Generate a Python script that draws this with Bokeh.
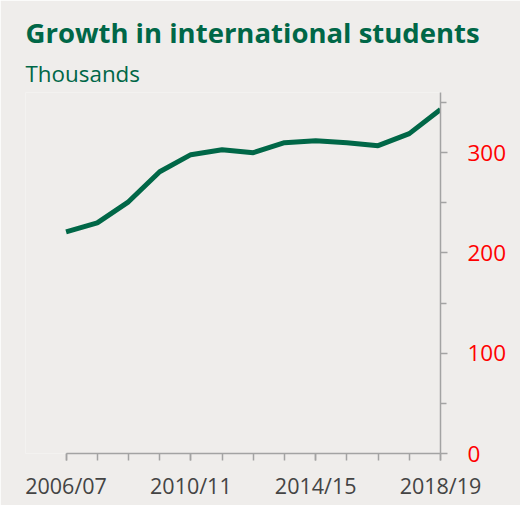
from bokeh.plotting import figure
from bokeh.models import Range1d, FixedTicker, Title
from bokeh.embed import file_html
from bokeh.resources import INLINE

years = ["2006/07", "2007/08", "2008/09", "2009/10", "2010/11", "2011/12", "2012/13",
         "2013/14", "2014/15", "2015/16", "2016/17", "2017/18", "2018/19"]
students = [221, 230, 251, 281, 298, 303, 300, 310, 312, 310, 307, 319, 343]
y_major = [0, 100, 200, 300]
y_minor = [50, 150, 250, 350]
x_labelled = ["2006/07", "2010/11", "2014/15", "2018/19"]

BG = "#efedeb"
GREEN = "#006747"
AXIS = "#a3a3a3"

xs = list(range(len(years)))

p = figure(width=520, height=505, output_backend="svg", toolbar_location=None,
           x_range=Range1d(-1.30, len(years) - 1), y_range=Range1d(0, 360),
           y_axis_location="right",
           min_border_left=25, min_border_right=80, min_border_top=92, min_border_bottom=52)
p.background_fill_color = BG
p.border_fill_color = BG
p.outline_line_color = None
p.grid.visible = False

p.title.text = "Growth in international students"
p.title.text_font = "Open Sans"
p.title.text_font_style = "bold"
p.title.text_font_size = "27.5px"
p.title.text_color = GREEN
p.title.standoff = 1
p.add_layout(Title(text="Thousands", text_font="Open Sans", text_font_style="normal",
                   text_font_size="22.4px", text_color=GREEN, standoff=8), "above")

p.line(xs, students, line_width=5, color=GREEN)

xa = p.xaxis[0]
major_idx = [years.index(y) for y in x_labelled]
xa.ticker = FixedTicker(ticks=major_idx, minor_ticks=xs)
xa.major_label_overrides = {i: years[i] for i in major_idx}
xa.bounds = (0, len(years) - 1)
xa.axis_line_color = AXIS
xa.axis_line_width = 1.5
xa.major_tick_line_color = AXIS
xa.minor_tick_line_color = AXIS
xa.major_tick_line_width = 1.5
xa.minor_tick_line_width = 1.5
xa.major_tick_in = 0
xa.major_tick_out = 7
xa.minor_tick_in = 0
xa.minor_tick_out = 7
xa.major_label_text_font = "Open Sans"
xa.major_label_text_font_size = "21.5px"
xa.major_label_text_color = "#444444"
xa.major_label_standoff = 10

ya = p.yaxis[0]
ya.ticker = FixedTicker(ticks=y_major, minor_ticks=y_minor)
ya.axis_line_color = AXIS
ya.axis_line_width = 1.5
ya.major_tick_line_color = AXIS
ya.minor_tick_line_color = AXIS
ya.major_tick_line_width = 1.5
ya.minor_tick_line_width = 1.5
ya.major_tick_in = 0
ya.major_tick_out = 7
ya.minor_tick_in = 0
ya.minor_tick_out = 6
ya.major_label_text_font = "Open Sans"
ya.major_label_text_font_size = "22.5px"
ya.major_label_text_color = "#ff0000"
ya.major_label_standoff = 20

open("out.html", "w").write(file_html(p, INLINE))
